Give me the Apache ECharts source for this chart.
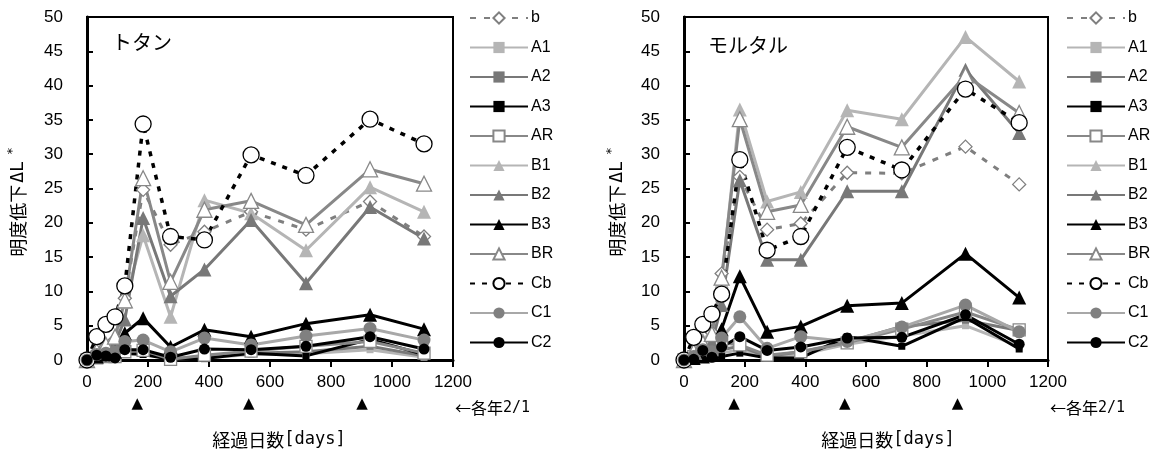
<!DOCTYPE html>
<html><head><meta charset="utf-8">
<script src="https://cdn.jsdelivr.net/npm/echarts@6/dist/echarts.min.js"></script>
<style>html,body{margin:0;padding:0;background:#fff}#c{width:1163px;height:454px}</style>
</head><body><div id="c"></div>
<script>
// ---- data ----
const xDays = [0, 32, 62, 92, 124, 184, 274, 385, 538, 718, 928, 1105];
const seriesNames = ['b','A1','A2','A3','AR','B1','B2','B3','BR','Cb','C1','C2'];
const xTicks = [0, 200, 400, 600, 800, 1000, 1200];
const arrowDays = [165, 530, 902];
const panelTitles = ['トタン', 'モルタル'];
// left panel (トタン)
const L_b  = [0, 1.2, 2.0, 3.0, 9.0, 24.8, 16.8, 18.7, 21.6, 19.0, 23.1, 18.0];
const L_A1 = [0, 0.3, 0.4, 0.5, 0.8, 1.0, 0.1, 0.3, 0.8, 0.9, 1.5, 0.4];
const L_A2 = [0, 0.4, 0.5, 0.6, 1.0, 1.2, 0.2, 0.5, 1.0, 1.2, 2.0, 0.6];
const L_A3 = [0, 0.5, 0.6, 0.4, 1.0, 0.8, 0.1, 0.2, 1.0, 0.6, 3.0, 0.8];
const L_AR = [0, 0.3, 0.5, 0.5, 1.2, 1.4, 0.1, 0.7, 1.3, 2.0, 2.7, 1.0];
const L_B1 = [0, 1.0, 1.8, 3.0, 8.5, 18.2, 6.3, 23.3, 21.4, 16.0, 25.2, 21.6];
const L_B2 = [0, 0.8, 1.5, 2.5, 5.9, 20.7, 9.3, 13.2, 20.4, 11.2, 22.3, 17.7];
const L_B3 = [0, 0.5, 0.8, 1.2, 3.9, 6.1, 1.9, 4.4, 3.4, 5.3, 6.6, 4.5];
const L_BR = [0, 1.3, 2.2, 3.4, 8.7, 26.5, 11.4, 21.9, 23.2, 19.7, 27.8, 25.7];
const L_Cb = [0, 3.4, 5.2, 6.3, 10.8, 34.4, 18.0, 17.5, 29.9, 26.9, 35.1, 31.5];
const L_C1 = [0, 0.8, 1.0, 1.2, 2.7, 2.9, 1.2, 3.2, 2.2, 3.5, 4.6, 2.9];
const L_C2 = [0, 0.7, 0.6, 0.3, 1.5, 1.5, 0.4, 1.6, 1.5, 2.0, 3.4, 1.6];
// right panel (モルタル)
const R_b  = [0, 1.0, 2.5, 4.0, 12.6, 26.7, 19.0, 19.9, 27.3, 27.2, 31.1, 25.6];
const R_A1 = [0, 0.2, 0.5, 0.6, 1.0, 1.5, 0.3, 0.8, 2.3, 3.5, 5.0, 2.0];
const R_A2 = [0, 0.3, 0.8, 1.0, 1.5, 2.0, 0.5, 1.2, 2.6, 4.9, 5.8, 4.3];
const R_A3 = [0, 0.1, 0.3, 0.2, 0.5, 1.0, 0.3, 0.3, 3.4, 2.0, 6.2, 1.6];
const R_AR = [0, 0.5, 1.0, 1.5, 2.5, 2.2, 0.7, 1.2, 2.5, 4.5, 7.0, 4.4];
const R_B1 = [0, 1.5, 3.0, 4.0, 11.5, 36.5, 23.1, 24.5, 36.4, 35.1, 47.1, 40.6];
const R_B2 = [0, 1.0, 2.0, 2.5, 8.0, 26.2, 14.6, 14.6, 24.6, 24.6, 42.3, 33.1];
const R_B3 = [0, 0.3, 0.5, 1.0, 4.5, 12.2, 4.1, 4.9, 7.9, 8.3, 15.5, 9.1];
const R_BR = [0, 1.2, 2.5, 3.8, 12.0, 35.1, 21.6, 22.6, 34.0, 31.0, 41.5, 36.0];
const R_Cb = [0, 3.3, 5.2, 6.7, 9.6, 29.2, 16.0, 18.0, 31.0, 27.7, 39.5, 34.6];
const R_C1 = [0, 0.5, 1.5, 1.2, 3.2, 6.3, 1.7, 3.4, 2.7, 4.8, 8.0, 4.1];
const R_C2 = [0, 0.1, 1.4, 0.4, 1.9, 3.4, 1.4, 1.9, 3.2, 3.3, 6.6, 2.3];

const leftVals  = [L_b, L_A1, L_A2, L_A3, L_AR, L_B1, L_B2, L_B3, L_BR, L_Cb, L_C1, L_C2];
const rightVals = [R_b, R_A1, R_A2, R_A3, R_AR, R_B1, R_B2, R_B3, R_BR, R_Cb, R_C1, R_C2];

// ---- styles ----
const LG = '#b5b5b5', MG = '#787878', AG = '#888888';
const styles = {
  b:  {symbol:'diamond', size:13, fill:'#fff', border:'#7f7f7f', line:'#7f7f7f', dash:[6,8]},
  A1: {symbol:'rect', size:7, fill:LG, border:LG, line:LG},
  A2: {symbol:'rect', size:7, fill:MG, border:MG, line:MG},
  A3: {symbol:'rect', size:7, fill:'#000', border:'#000', line:'#000'},
  AR: {symbol:'rect', size:12, fill:'#fff', border:AG, line:AG},
  B1: {symbol:'triangle', size:14, fill:LG, border:LG, line:LG},
  B2: {symbol:'triangle', size:14, fill:MG, border:MG, line:MG},
  B3: {symbol:'triangle', size:14, fill:'#000', border:'#000', line:'#000'},
  BR: {symbol:'triangle', size:15, fill:'#fff', border:AG, line:AG},
  Cb: {symbol:'circle', size:16, fill:'#fff', border:'#000', line:'#000', dash:[5,7]},
  C1: {symbol:'circle', size:13, fill:'#808080', border:'#808080', line:'#a8a8a8'},
  C2: {symbol:'circle', size:11, fill:'#000', border:'#000', line:'#000'}
};

const numFont = "'Liberation Sans',Arial,sans-serif";
const jpFont = "'Noto Sans CJK JP',sans-serif";
const monoFont = "'DejaVu Sans Mono','Liberation Mono',monospace";

function buildSeries(vals, gi) {
  return seriesNames.map((n, k) => {
    const s = styles[n];
    return {
      type:'line', name:n, xAxisIndex:gi, yAxisIndex:gi,
      data: xDays.map((x, i) => [x, vals[k][i]]),
      symbol:s.symbol, symbolSize:s.size, showAllSymbol:true,
      lineStyle:{color:s.line, width: n==='Cb'?3.5:3, type: s.dash || 'solid'},
      itemStyle:{color:s.fill, borderColor:s.border, borderWidth:(s.fill==='#fff')?1.3:0},
      emphasis:{disabled:true}, animation:false
    };
  });
}

const grids = [
  {left:87, right:710, top:17, bottom:94},
  {left:684, right:115, top:17, bottom:94}
];

function xAxis(gi){ return {
  type:'value', gridIndex:gi, min:0, max:1200, interval:200,
  axisLine:{show:true, onZero:false, lineStyle:{color:'#000', width:3}},
  axisTick:{show:true, inside:false, length:7, lineStyle:{color:'#000', width:2}},
  axisLabel:{color:'#000', fontSize:17, fontFamily:numFont, margin:14, formatter: v => String(v)},
  splitLine:{show:false}
};}
function yAxis(gi){ return {
  type:'value', gridIndex:gi, min:0, max:50, interval:5,
  axisLine:{show:true, lineStyle:{color:'#000', width:3}},
  axisTick:{show:true, inside:true, length:6, lineStyle:{color:'#000', width:2}},
  axisLabel:{color:'#000', fontSize:17, fontFamily:numFont, margin:24},
  splitLine:{show:false}
};}

function legend(left){ return {
  show:true, orient:'vertical', left:left, top:10, padding:0,
  itemWidth:58, itemHeight:14, itemGap:13.5,
  data: seriesNames,
  textStyle:{color:'#000', fontSize:16, lineHeight:16, fontFamily:numFont, padding:[0,0,0,-2]},
  selectedMode:false
};}

const chart = echarts.init(document.getElementById('c'), null, {renderer:'canvas'});
chart.setOption({
  backgroundColor:'#fff',
  animation:false,
  grid: grids.map(g => Object.assign({show:true, borderColor:'#000', borderWidth:2, backgroundColor:'transparent'}, g)),
  xAxis:[xAxis(0), xAxis(1)],
  yAxis:[yAxis(0), yAxis(1)],
  legend:[legend(469), legend(1066)],
  series: buildSeries(leftVals, 0).concat(buildSeries(rightVals, 1))
});

// annotations
const graphics = [];
const titlePos = [[112, 45], [708, 48]];
panelTitles.forEach((t, i) => graphics.push({type:'text', left:titlePos[i][0], top:titlePos[i][1]-13,
  style:{text:t, fontSize:20, fontFamily:jpFont, fill:'#000'}}));
const yNameX = [18, 617];
yNameX.forEach(x => graphics.push({type:'text', x:x, y:202, rotation:Math.PI/2,
  style:{text:'{j|明度低下}{m|ΔL}{s|*}',
         rich:{j:{fontSize:18, fontFamily:jpFont}, m:{fontSize:18, fontFamily:monoFont, padding:[0,0,0,2]},
               s:{fontSize:13, fontFamily:monoFont, verticalAlign:'top', padding:[0,0,10,6]}},
         fill:'#000', align:'center', verticalAlign:'middle'}}));
const xNameCx = [279, 888];
xNameCx.forEach(cx => graphics.push({type:'text', x:cx, y:440,
  style:{text:'{j|経過日数}{m|[days]}', rich:{j:{fontSize:18, fontFamily:jpFont}, m:{fontSize:17, fontFamily:monoFont}},
         fill:'#000', align:'center', verticalAlign:'middle'}}));
[0,1].forEach(gi => {
  arrowDays.forEach(d => {
    const px = chart.convertToPixel({xAxisIndex:gi}, d);
    graphics.push({type:'text', x:px, y:404, style:{text:'▲', fontSize:15, fontFamily:"'DejaVu Sans',sans-serif", fill:'#000', align:'center', verticalAlign:'middle'}});
  });
  const endPx = chart.convertToPixel({xAxisIndex:gi}, 1200);
  graphics.push({type:'text', x:endPx+2, y:408, style:{text:'{a|←各年}{m|2/1}',
    rich:{a:{fontSize:16, fontFamily:jpFont}, m:{fontSize:15, fontFamily:monoFont}}, fill:'#000', align:'left', verticalAlign:'middle'}});
});
chart.setOption({graphic: graphics});
</script></body></html>
